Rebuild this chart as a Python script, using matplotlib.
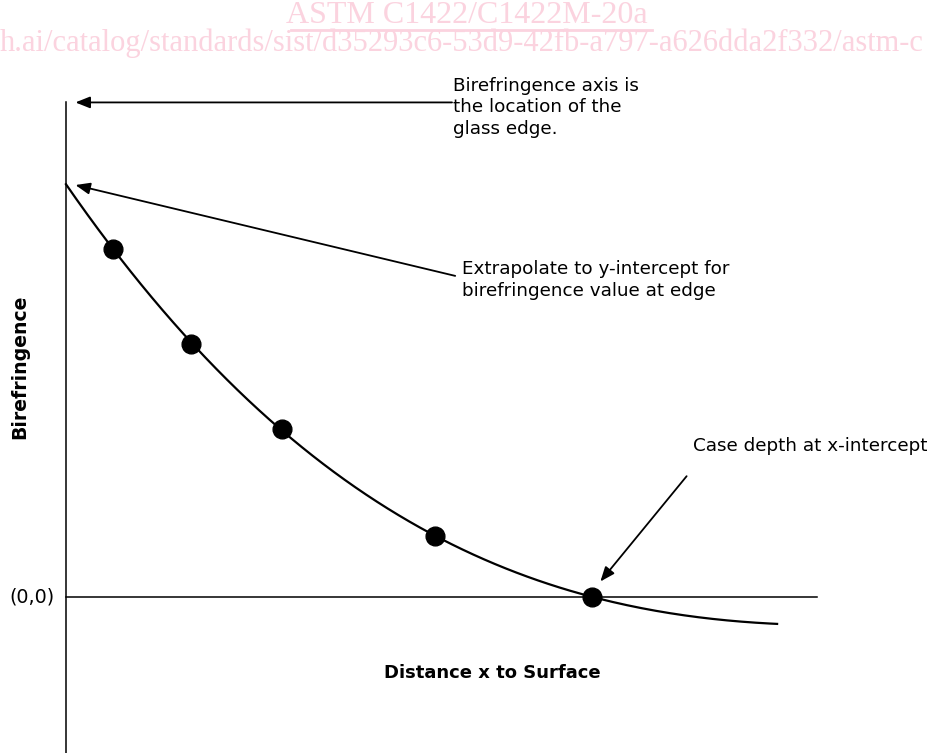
import matplotlib
matplotlib.use('Agg')
import matplotlib.pyplot as plt
import numpy as np

# measured birefringence points (distance from surface, birefringence)
meas_x = [0.45, 1.19, 2.05, 3.51, 5.0]
meas_y = [3.37, 2.45, 1.63, 0.59, 0.0]
# extrapolated edge value and the far end of the trend curve
edge_x, edge_y = 0.0, 4.0
end_x, end_y = 6.76, -0.26

label_edge = "Birefringence axis is\nthe location of the\nglass edge."
label_extrap = "Extrapolate to y-intercept for\nbirefringence value at edge"
label_case = "Case depth at x-intercept"
wm_title = "ASTM C1422/C1422M-20a"
wm_url = "h.ai/catalog/standards/sist/d35293c6-53d9-42fb-a797-a626dda2f332/astm-c"


def main():
    fig = plt.figure(figsize=(9.33, 7.53), dpi=100)
    ax = fig.add_axes([0, 0, 1, 1])
    ax.set_xlim(-0.627, 8.242)
    ax.set_ylim(-1.511, 5.782)
    ax.axis('off')

    # trend curve fitted through the points
    fx = [edge_x] + meas_x + [end_x]
    fy = [edge_y] + meas_y + [end_y]
    coef = np.polyfit(fx, fy, 3)
    xs = np.linspace(edge_x, end_x, 200)
    ax.plot(xs, np.polyval(coef, xs), color='black', lw=1.6, zorder=3)
    ax.plot(meas_x, meas_y, 'o', color='black', ms=13.5, zorder=4)

    # axes lines
    ax.plot([0, 0], [-1.6, 4.79], color='black', lw=1.1)
    ax.plot([0, 7.14], [0, 0], color='black', lw=1.1)

    arrow = dict(arrowstyle='-|>,head_length=0.55,head_width=0.22', color='black',
                 lw=1.3, mutation_scale=16, shrinkA=0, shrinkB=0)
    ax.annotate('', xy=(0.09, 4.79), xytext=(3.67, 4.79), arrowprops=arrow)
    ax.annotate('', xy=(0.09, 3.99), xytext=(3.70, 3.11), arrowprops=arrow)
    ax.annotate('', xy=(5.08, 0.15), xytext=(5.90, 1.17), arrowprops=arrow)

    ax.text(3.68, 5.04, label_edge, fontsize=13.2, va='top', ha='left', linespacing=1.27)
    ax.text(3.76, 3.26, label_extrap, fontsize=13.2, va='top', ha='left', linespacing=1.25)
    ax.text(5.96, 1.46, label_case, fontsize=13.2, va='center', ha='left')

    ax.text(-0.105, 0, '(0,0)', fontsize=13.8, va='center', ha='right')
    ax.text(-0.437, 2.23, 'Birefringence', fontsize=13.6, fontweight='bold',
            rotation=90, va='center', ha='center')
    ax.text(4.05, -0.736, 'Distance x to Surface', fontsize=13, fontweight='bold',
            va='center', ha='center')

    # watermark
    pink = '#fbd3df'
    fig.text(0.5, 0.980, wm_title, fontsize=23, family='Liberation Serif',
             color=pink, ha='center', va='center')
    ax.plot([2.14, 5.57], [5.49, 5.49], color=pink, lw=2)
    fig.text(0.0, 0.943, wm_url, fontsize=22, family='Liberation Serif',
             color=pink, ha='left', va='center')

    fig.savefig('out.png', dpi=100)


if __name__ == '__main__':
    main()
